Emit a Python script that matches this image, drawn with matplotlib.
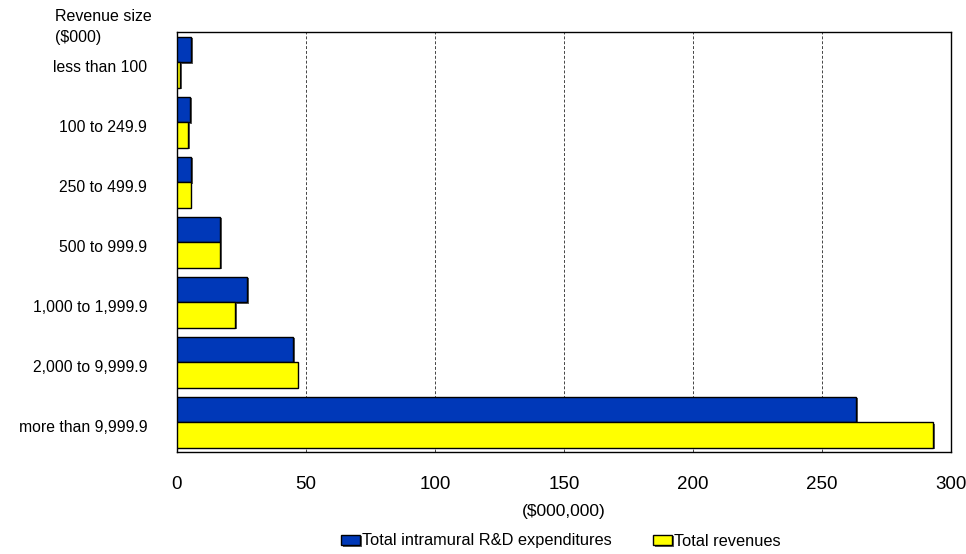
import matplotlib.pyplot as plt
import matplotlib.patheffects as pe
import matplotlib.transforms as mtransforms
import numpy as np

plt.rcParams["font.family"] = ["Liberation Sans", "DejaVu Sans"]

# Revenue size classes ($000), top to bottom
CATEGORIES = [
    "less than 100",
    "100 to 249.9",
    "250 to 499.9",
    "500 to 999.9",
    "1,000 to 1,999.9",
    "2,000 to 9,999.9",
    "more than 9,999.9",
]
# $000,000
RD_EXPENDITURES = [5.4, 5.0, 5.6, 16.7, 27.2, 45.1, 263.3]
TOTAL_REVENUES = [1.2, 4.3, 5.3, 16.7, 22.6, 46.8, 293.0]
X_TICKS = [0, 50, 100, 150, 200, 250, 300]

BLUE = "#0038B8"
YELLOW = "#FFFF00"


def plot_revenue(outfile="out.png"):
    fig = plt.figure(figsize=(9.66, 5.54), dpi=100)
    ax = fig.add_axes([177 / 966, 1 - 452 / 554, (951 - 177) / 966, (452 - 32) / 554])

    y = np.arange(len(CATEGORIES))
    h = 0.425
    shadow = [pe.SimplePatchShadow(offset=(1.2, -1.2), shadow_rgbFace="#333333", alpha=0.8), pe.Normal()]

    ax.barh(y - h / 2, RD_EXPENDITURES, height=h, color=BLUE, edgecolor="black",
            linewidth=1, label="Total intramural R&D expenditures", zorder=3,
            path_effects=shadow)
    ax.barh(y + h / 2, TOTAL_REVENUES, height=h, color=YELLOW, edgecolor="black",
            linewidth=1, label="Total revenues", zorder=3, path_effects=shadow)

    ax.set_ylim(len(CATEGORIES) - 0.5, -0.5)
    ax.set_xlim(0, 300)
    ax.set_xticks(X_TICKS)
    ax.set_xticklabels([str(v) for v in X_TICKS], fontsize=13.5)
    ax.set_yticks(y)
    ax.set_yticklabels(CATEGORIES, fontsize=11.3)
    ax.tick_params(axis="y", length=0, pad=21.5)
    ax.tick_params(axis="x", length=0, pad=17.5)

    # category labels sit a little below the group centre
    shift = mtransforms.ScaledTranslation(0, -4 / 100, fig.dpi_scale_trans)
    for lbl in ax.get_yticklabels():
        lbl.set_transform(lbl.get_transform() + shift)

    for v in X_TICKS[1:-1]:
        ax.axvline(v, color="#444444", linestyle=(0, (3, 2)), linewidth=0.7, zorder=1)

    for s in ax.spines.values():
        s.set_linewidth(1)
        s.set_color("black")

    ax.set_xlabel("($000,000)", fontsize=12.5, labelpad=8)
    fig.text(55 / 966, 1 - 27 / 554, "Revenue size\n($000)", fontsize=11.5,
             ha="left", va="center", linespacing=1.45)

    fig.legend(loc="center", bbox_to_anchor=(561 / 966, 1 - 541 / 554), ncol=2,
               frameon=False, fontsize=11.8, handlelength=1.15, handleheight=0.6,
               handletextpad=0.15, columnspacing=2.5, borderaxespad=0)

    plt.savefig(outfile)


if __name__ == "__main__":
    plot_revenue()
